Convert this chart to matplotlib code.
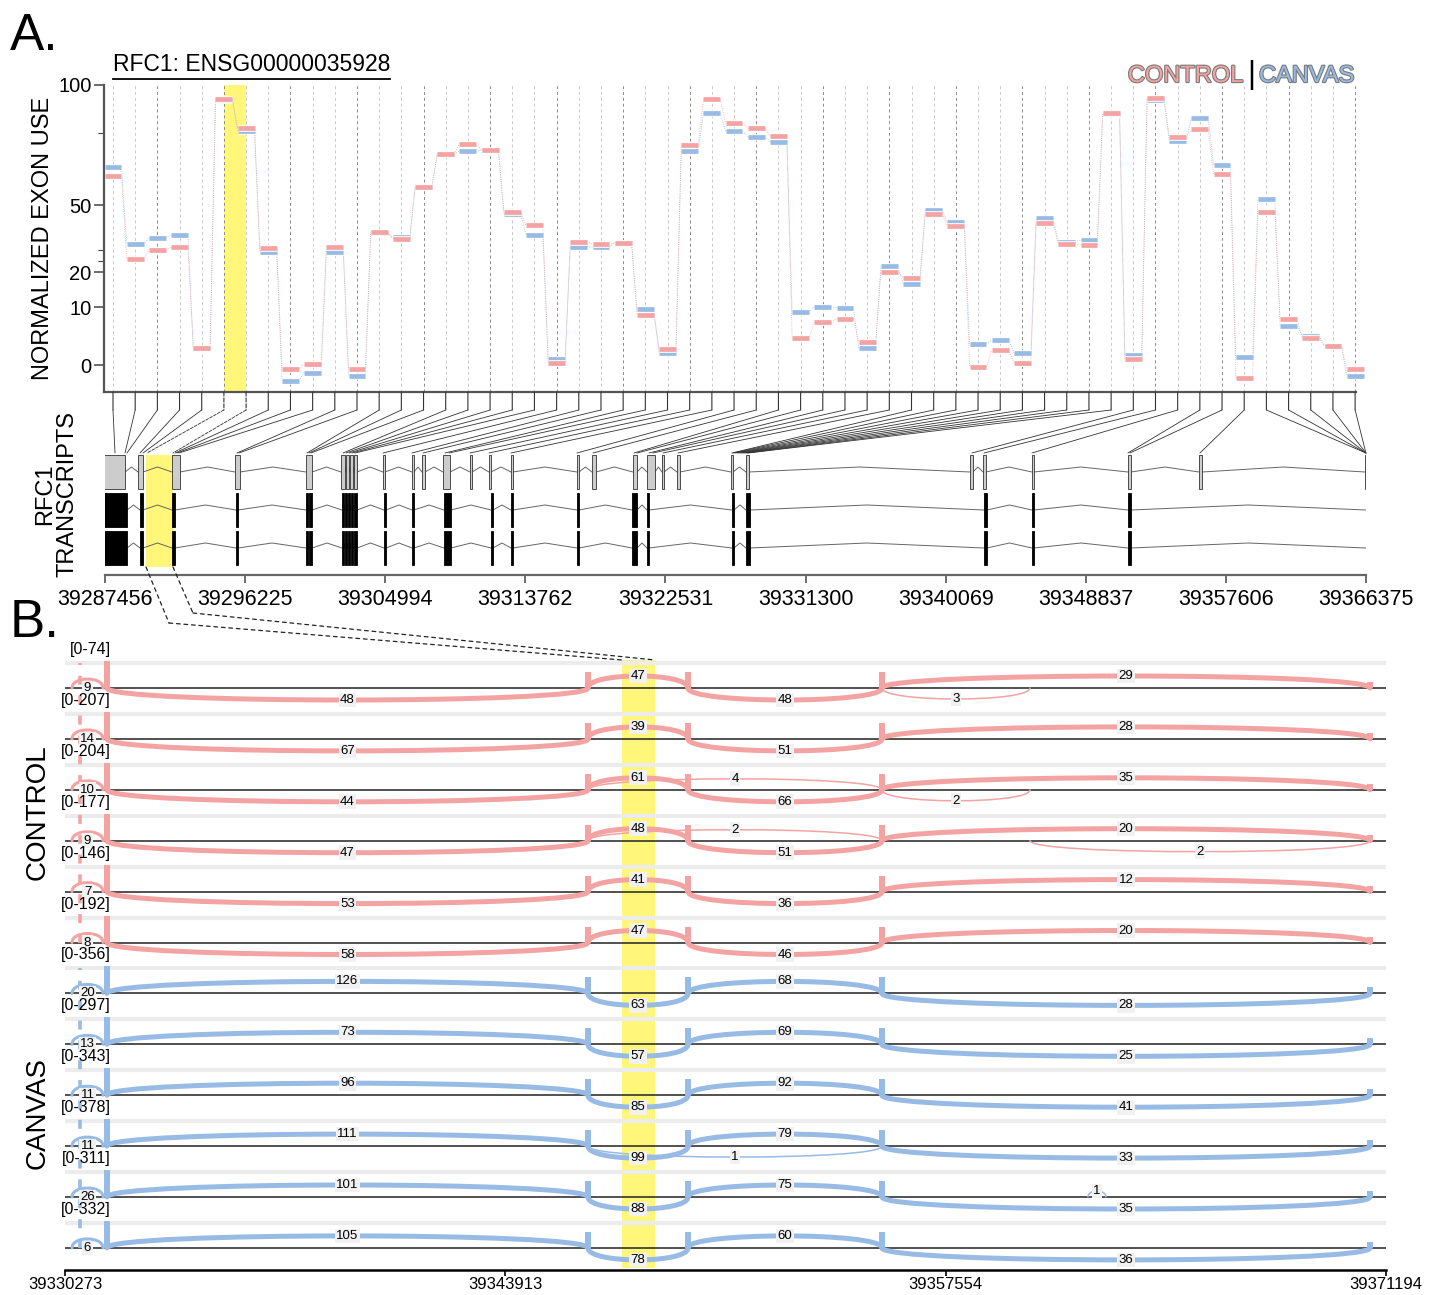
import numpy as np
import matplotlib
matplotlib.use('Agg')
import matplotlib.pyplot as plt
import matplotlib.patheffects as pe
from matplotlib.patches import Rectangle, ConnectionPatch, PathPatch
from matplotlib.path import Path
from matplotlib.lines import Line2D

plt.rcParams['font.family'] = ['Liberation Sans Narrow', 'Liberation Sans', 'DejaVu Sans']

RED = '#f4a3a3'
BLUE = '#97bbe4'
YELLOW = '#fff67a'
W, H = 1438, 1295

# ---------------- data: panel A (normalized exon use, 57 exon bins)
control_use = [62, 25.7, 29.9, 31.1, 2.9, 94.3, 82, 30.6, -0.6, 0.1, 31.1, -0.7, 38.0, 34.8,
               57.6, 71.3, 75.5, 72.8, 47, 40.9, 0.4, 33.6, 32.4, 33.1, 8.7, 2.8, 75.2, 94,
               84, 82, 78.75, 4.7, 7.4, 8.0, 4.0, 20.1, 18.4, 46, 40.6, -0.3, 2.6, 0.4, 42,
               32.4, 32.1, 88.2, 1.0, 94.7, 78.5, 81.5, 62.9, -2.2, 46.7, 7.9, 4.6, 3.3, -0.7]
canvas_use = [66, 32.5, 35.4, 36.7, 2.9, 93.7, 80.8, 28.8, -2.7, -1.3, 28.8, -1.9, 37.3, 35.5,
              57.6, 71.3, 72.5, 72.8, 46, 36.7, 1.0, 31.3, 31.2, 33.1, 9.7, 2.1, 72.4, 88.2,
              80.7, 78.5, 76.4, 9.1, 10.1, 9.9, 2.9, 22.8, 16.7, 47.6, 42.4, 3.6, 4.3, 2.1, 44,
              33.6, 34.3, 87.8, 1.8, 93.75, 76.8, 86.4, 66.7, 1.3, 52.5, 6.7, 5.0, 3.3, -1.9]
highlight_bins = (6, 7)
y_ticks = [0, 10, 20, 50, 100]
# axis scale of panel A (value -> relative height)
scale_v = [-5, 0, 10, 20, 50, 100]
scale_h = [-29, 0, 58, 93, 160, 280]

# genomic position of every exon bin on the transcript track
bin_pos = [39288082, 39288708, 39288833, 39289646, 39289834, 39290084, 39291711, 39291837,
           39291962, 39292087, 39295717, 39295842, 39300097, 39300223, 39300348, 39302350,
           39302538, 39302725, 39302913, 39303101, 39304853, 39306668, 39307356, 39308733,
           39308984, 39310298, 39311487, 39312863, 39316994, 39317995, 39320561, 39320749,
           39321500, 39321750, 39322376, 39323315, 39326693, 39326756, 39326881, 39327007,
           39327132, 39327257, 39327382, 39327507, 39327632, 39327695, 39341713, 39342464,
           39345468, 39351475, 39351601, 39355981, 39366369, 39366369, 39366369, 39366369,
           39366369]

# ---------------- data: transcripts
tx_ticks = [39287456, 39296225, 39304994, 39313762, 39322531, 39331300, 39340069,
            39348837, 39357606, 39366375]
tx1_exons = [(39287393, 39288708), (39289521, 39289834), (39291649, 39292150),
             (39295591, 39295904), (39300035, 39300410), (39302225, 39302475),
             (39302538, 39302725), (39302788, 39302976), (39303038, 39303226),
             (39304853, 39304978), (39306668, 39306793), (39307294, 39307482),
             (39308608, 39309046), (39310298, 39310423), (39311487, 39311612),
             (39312863, 39312989), (39316994, 39317119), (39317933, 39318183),
             (39320498, 39320749), (39321375, 39321875), (39322313, 39322439),
             (39323252, 39323439), (39326631, 39326756), (39327569, 39327757),
             (39341588, 39341776), (39342402, 39342589), (39345468, 39345593),
             (39351475, 39351663), (39355919, 39356107), (39366307, 39366495)]
tx2_exons = [(39287393, 39288833), (39289646, 39289834), (39291649, 39291837),
             (39295654, 39295779), (39300035, 39300160), (39300223, 39300410),
             (39302287, 39302413), (39302475, 39302600), (39302663, 39302788),
             (39302851, 39302976), (39303038, 39303226), (39304915, 39305041),
             (39306668, 39306793), (39308671, 39309109), (39311612, 39311737),
             (39312863, 39312989), (39316994, 39317119), (39320436, 39320749),
             (39321375, 39321500), (39326693, 39326819), (39327569, 39327820),
             (39342464, 39342652), (39345468, 39345593), (39351475, 39351663),
             (39366369, 39366557)]
tx_highlight = (39290021, 39291711)

# ---------------- data: panel B (sashimi)
b_ticks = [39330273, 39343913, 39357554, 39371194]
b_highlight = (39347527, 39348549)
b_small_exon = 39330738
b_cov_x = [39331574, 39346474, 39349572, 39355582, 39370698]
b_cov_h = [27, 16, 16, 16, 6]
junc = {
    'small': (39330490, 39331450),
    'j1': (39331574, 39346474),
    'j2': (39346474, 39349572),
    'j3': (39349572, 39355582),
    'j4': (39355582, 39370698),
    'j5': (39355582, 39360165),
    'j6': (39346474, 39355582),
    'j7': (39360165, 39370698),
    'j8': (39361962, 39362520),
}
control_ranges = ['[0-74]', '[0-207]', '[0-204]', '[0-177]', '[0-146]', '[0-192]']
canvas_ranges = ['[0-356]', '[0-297]', '[0-343]', '[0-378]', '[0-311]', '[0-332]']
control_small = [9, 14, 10, 9, 7, 8]
control_j1 = [48, 67, 44, 47, 53, 58]
control_j2 = [47, 39, 61, 48, 41, 47]
control_j3 = [48, 51, 66, 51, 36, 46]
control_j4 = [29, 28, 35, 20, 12, 20]
canvas_small = [20, 13, 11, 11, 26, 6]
canvas_j1 = [126, 73, 96, 111, 101, 105]
canvas_j2 = [63, 57, 85, 99, 88, 78]
canvas_j3 = [68, 69, 92, 79, 75, 60]
canvas_j4 = [28, 25, 41, 33, 35, 36]
# (track, junction, count, side) for the rare junctions
control_extra = [(0, 'j5', 3, -1), (2, 'j6', 4, 1), (2, 'j5', 2, -1), (3, 'j6', 2, 1), (3, 'j7', 2, -1)]
canvas_extra = [(3, 'j6', 1, -1), (4, 'j8', 1, 1)]

fig = plt.figure(figsize=(W / 100, H / 100), dpi=100)


def px_axes(l, t, r, b):
    return fig.add_axes([l / W, 1 - b / H, (r - l) / W, (b - t) / H])


# ================= panel A
axA = px_axes(104, 85, 1356, 392)
fwd = lambda v: np.interp(v, scale_v, scale_h)
inv = lambda h: np.interp(h, scale_h, scale_v)
axA.set_yscale('function', functions=(fwd, inv))
idx = np.arange(1, len(control_use) + 1)
axA.set_xlim(0.594, 57.04)
axA.set_ylim(-4.65, 100)
axA.axvspan(highlight_bins[0], highlight_bins[1], color=YELLOW, zorder=0, lw=0)
for i in idx:
    c = '#8a8a8a' if i % 3 == 0 else '#c8c8c8'
    axA.axvline(i, color=c, lw=0.7, ls=(0, (3, 3)), zorder=1)
half = 0.38
for vals, col in ((canvas_use, BLUE), (control_use, RED)):
    vals = np.array(vals)
    for i in range(len(vals) - 1):
        axA.plot([idx[i] + half, idx[i + 1] - half], [vals[i], vals[i + 1]], color=col,
                 lw=0.6, ls=':', zorder=2)
    axA.hlines(vals, idx - half, idx + half, colors=col, lw=3.4, zorder=3, clip_on=False,
               path_effects=[pe.withStroke(linewidth=4.8, foreground='white')])
axA.set_yticks(y_ticks)
axA.set_yticklabels([str(t) for t in y_ticks])
axA.set_yticks([80, 30, 25], minor=True)
axA.set_xticks([])
axA.tick_params(axis='y', labelsize=14.5, length=7, width=1.1, color='#444', pad=2)
axA.tick_params(axis='y', which='minor', length=4, width=0.8, color='#444')
for s in ('top', 'right'):
    axA.spines[s].set_visible(False)
for s in ('left', 'bottom'):
    axA.spines[s].set_color('#555')
    axA.spines[s].set_linewidth(1.6)

# ================= transcripts
axT = px_axes(105, 453, 1366, 575)
axT.set_xlim(tx_ticks[0], tx_ticks[-1])
axT.set_ylim(0, 122)
axT.add_patch(Rectangle((tx_highlight[0], 8), tx_highlight[1] - tx_highlight[0], 112,
                        color=YELLOW, lw=0, zorder=0))
rows = [(103, tx1_exons, '#cccccc', '#333333'), (65, tx2_exons, 'black', 'black'),
        (27, tx2_exons, 'black', 'black')]
for yc, exons, fc, ec in rows:
    for (s, e), (s2, e2) in zip(exons[:-1], exons[1:]):
        axT.plot([e, (e + s2) / 2, s2], [yc, yc + 5, yc], color='#666', lw=0.7, zorder=1)
    for s, e in exons:
        axT.add_patch(Rectangle((s, yc - 17), e - s, 34, facecolor=fc, edgecolor=ec,
                                lw=0.6, zorder=2))
axT.set_xticks(tx_ticks)
axT.set_xticklabels([str(t) for t in tx_ticks])
axT.set_yticks([])
axT.tick_params(axis='x', labelsize=15.5, length=6, width=1.2, color='#555', pad=4)
for s in ('top', 'right', 'left'):
    axT.spines[s].set_visible(False)
axT.spines['bottom'].set_color('#666')
axT.spines['bottom'].set_linewidth(1.6)

# connectors exon bins -> transcript track
tick_end = -18 / 307
for i, g in enumerate(bin_pos, start=1):
    ls = '--' if i in highlight_bins else '-'
    c1 = ConnectionPatch(xyA=(i, 0), coordsA=axA.get_xaxis_transform(),
                         xyB=(i, tick_end), coordsB=axA.get_xaxis_transform(),
                         color='#333', lw=0.8, ls=ls)
    c2 = ConnectionPatch(xyA=(i, tick_end), coordsA=axA.get_xaxis_transform(),
                         xyB=(g, 1), coordsB=axT.get_xaxis_transform(),
                         color='#333', lw=0.6, ls=ls)
    fig.add_artist(c1)
    fig.add_artist(c2)

# ================= panel B
axB = px_axes(65, 655, 1386, 1270)
axB.set_xlim(b_ticks[0], b_ticks[-1])
axB.set_ylim(0, 615)
axB.add_patch(Rectangle((b_highlight[0], 2), b_highlight[1] - b_highlight[0], 608,
                        color=YELLOW, lw=0, zorder=0))


def arc(base, x0, x1, side, col, lw, count, h=12, label_dy=0):
    k = h / 0.75
    verts = [(x0, base), (x0, base + side * k), (x1, base + side * k), (x1, base)]
    p = Path(verts, [Path.MOVETO, Path.CURVE4, Path.CURVE4, Path.CURVE4])
    axB.add_patch(PathPatch(p, facecolor='none', edgecolor=col, lw=lw, zorder=3,
                            capstyle='round'))
    axB.text((x0 + x1) / 2, base + side * h + label_dy, str(count), fontsize=9.5,
             ha='center', va='center', zorder=5,
             bbox=dict(boxstyle='square,pad=0.1', fc='#f1f1f1', ec='none'))


groups = [
    (RED, control_ranges, control_small, control_j1, control_j2, control_j3, control_j4,
     control_extra, (-1, 1, -1, 1)),
    (BLUE, canvas_ranges, canvas_small, canvas_j1, canvas_j2, canvas_j3, canvas_j4,
     canvas_extra, (1, -1, 1, -1)),
]
step = 50.9
k = 0
for col, ranges, small, j1, j2, j3, j4, extra, sides in groups:
    first = 582 - step * k
    for t in range(6):
        base = 582 - step * k
        axB.plot(b_ticks[0:4:3], [base + 25, base + 25], color='#ececec', lw=3, zorder=1)
        axB.plot(b_ticks[0:4:3], [base, base], color='#333', lw=1.2, zorder=2)
        axB.text(39331700, base + 38.5, ranges[t], fontsize=11.5, ha='right', va='center',
                 zorder=5)
        axB.bar(b_cov_x, b_cov_h, width=170, bottom=base, color=col, zorder=3)
        x0, x1 = junc['small']
        arc(base, x0, x1, 1, col, 2.2, small[t], h=9, label_dy=-9)
        for name, counts, side in zip(('j1', 'j2', 'j3', 'j4'), (j1, j2, j3, j4), sides):
            x0, x1 = junc[name]
            arc(base, x0, x1, side, col, 3.6, counts[t])
        for tr, name, cnt, side in extra:
            if tr == t:
                x0, x1 = junc[name]
                hh = 6 if name == 'j8' else 11
                arc(base, x0, x1, side, col, 1.1, cnt, h=hh)
        k += 1
    last = 582 - step * (k - 1)
    axB.vlines(b_small_exon, last, first + 25, color=col, lw=2.6, ls=(0, (2.5, 3)), zorder=2)

axB.set_xticks(b_ticks)
axB.set_xticklabels([str(t) for t in b_ticks])
axB.set_yticks([])
axB.tick_params(axis='x', labelsize=12, length=4, width=1.2, color='black', pad=1)
for s in ('top', 'right', 'left'):
    axB.spines[s].set_visible(False)
axB.spines['bottom'].set_linewidth(1.8)

# dashed link transcripts highlight -> sashimi highlight
knee_dx = [1440, 1250]
knee_y = [-48, -38]
for gx, bx, dx, ky in zip(tx_highlight, b_highlight, knee_dx, knee_y):
    for a, ca, b, cb in (((gx, 8), axT.transData, (gx + dx, ky), axT.transData),
                         ((gx + dx, ky), axT.transData, (bx, 610), axB.transData)):
        fig.add_artist(ConnectionPatch(xyA=a, coordsA=ca, xyB=b, coordsB=cb,
                                       color='#222', lw=0.9, ls=(0, (3, 3))))

# ================= texts
fig.text(10 / W, 1 - 12 / H, 'A.', fontsize=37, va='top', ha='left')
fig.text(10 / W, 1 - 598 / H, 'B.', fontsize=38, va='top', ha='left')
fig.text(43 / W, 1 - 238 / H, 'NORMALIZED EXON USE', fontsize=17, rotation=90,
         ha='center', va='center')
fig.text(56 / W, 1 - 494 / H, 'RFC1\nTRANSCRIPTS', fontsize=17, rotation=90,
         ha='center', va='center', multialignment='center', linespacing=1.0)
fig.text(38 / W, 1 - 812 / H, 'CONTROL', fontsize=20, rotation=90, ha='center', va='center')
fig.text(38 / W, 1 - 1113 / H, 'CANVAS', fontsize=20, rotation=90, ha='center', va='center')
title = fig.text(113 / W, 1 - 71 / H, 'RFC1: ENSG00000035928', fontsize=16.5,
                 ha='left', va='baseline')
outline = [pe.withStroke(linewidth=1.6, foreground='#7a7a7a')]
fig.text(1243 / W, 1 - 82 / H, 'CONTROL', fontsize=17, color=RED, ha='right',
         va='baseline', path_effects=outline)
fig.text(1251 / W, 1 - 83 / H, '|', fontsize=22, color='black', ha='center', va='baseline')
fig.text(1259 / W, 1 - 82 / H, 'CANVAS', fontsize=17, color=BLUE, ha='left',
         va='baseline', path_effects=outline)

fig.canvas.draw()
bb = title.get_window_extent()
p0 = fig.transFigure.inverted().transform((bb.x0, bb.y0 - 3))
p1 = fig.transFigure.inverted().transform((bb.x1, bb.y0 - 3))
fig.add_artist(Line2D([p0[0], p1[0]], [p0[1], p1[1]], color='black', lw=1.3,
                      transform=fig.transFigure))

fig.savefig('out.png', dpi=100)
